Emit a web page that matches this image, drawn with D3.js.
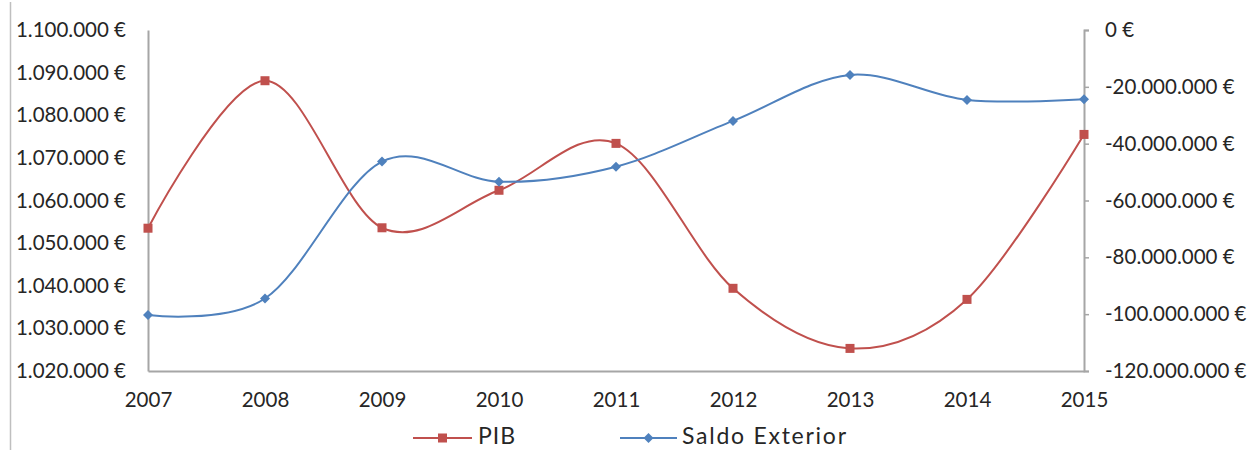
<!DOCTYPE html>
<html>
<head>
<meta charset="utf-8">
<script src="https://cdn.jsdelivr.net/npm/d3@7"></script>
<style>
  html, body { margin: 0; padding: 0; background: #fff; }
  svg { display: block; }
  text { font-family: Lato, "Open Sans", sans-serif; fill: #262626; }
</style>
</head>
<body>
<svg id="chart" width="1250" height="450"></svg>
<script>
// Years on the category axis
const years = ["2007", "2008", "2009", "2010", "2011", "2012", "2013", "2014", "2015"];
// PIB (left axis, euros)
const pib = [1053500, 1088100, 1053600, 1062400, 1073400, 1039400, 1025300, 1036800, 1075500];
// Saldo Exterior (right axis, euros)
const saldoExterior = [-100300000, -94500000, -46300000, -53400000, -48100000, -32000000, -15800000, -24600000, -24400000];
// Tick values for both value axes
const leftTicks = [1020000, 1030000, 1040000, 1050000, 1060000, 1070000, 1080000, 1090000, 1100000];
const rightTicks = [-120000000, -100000000, -80000000, -60000000, -40000000, -20000000, 0];
const seriesNames = ["PIB", "Saldo Exterior"];

const RED = "#C0504D", BLUE = "#4F81BD", AXIS = "#A6A6A6";
const TICK_FONT = "20.5px";

const svg = d3.select("#chart");
const plot = { left: 148, right: 1084, top: 30, bottom: 371 };

// Spanish-style thousands separator
const fmt = v => {
  const s = d3.format(",")(Math.abs(v)).replace(/,/g, ".");
  return (v < 0 ? "-" : "") + s + " €";
};

const x = d3.scalePoint().domain(years).range([plot.left, plot.right]);
const yL = d3.scaleLinear().domain([1020000, 1100000]).range([plot.bottom, plot.top]);
const yR = d3.scaleLinear().domain([-120000000, 0]).range([plot.bottom, plot.top]);

// Frame line at the far left edge
svg.append("line").attr("x1", 10.5).attr("x2", 10.5).attr("y1", 2).attr("y2", 450)
  .attr("stroke", "#BFBFBF").attr("stroke-width", 1.5);

function styleText(g) {
  g.selectAll("text").style("font-size", TICK_FONT)
    .style("font-family", "Lato, sans-serif").attr("fill", "#262626");
}

// Left axis: line only, labels to the left
const gL = svg.append("g").attr("transform", `translate(${plot.left},0)`)
  .call(d3.axisLeft(yL).tickValues(leftTicks).tickSize(0).tickPadding(22).tickFormat(fmt));
gL.select(".domain").attr("stroke", AXIS).attr("stroke-width", 2);
styleText(gL);

// Right axis with short outward ticks
const gR = svg.append("g").attr("transform", `translate(${plot.right},0)`)
  .call(d3.axisRight(yR).tickValues(rightTicks).tickSize(5).tickPadding(16).tickFormat(fmt));
gR.select(".domain").attr("stroke", AXIS).attr("stroke-width", 2);
gR.selectAll(".tick line").attr("stroke", AXIS).attr("stroke-width", 1.5);
styleText(gR);

// Bottom category axis
const gB = svg.append("g").attr("transform", `translate(0,${plot.bottom})`)
  .call(d3.axisBottom(x).tickSize(0).tickPadding(21));
gB.select(".domain").attr("stroke", AXIS).attr("stroke-width", 2);
styleText(gB);

const curve = d3.curveCardinal.tension(0);

// PIB series
const linePib = d3.line().x((d, i) => x(years[i])).y(d => yL(d)).curve(curve);
svg.append("path").datum(pib).attr("d", linePib)
  .attr("fill", "none").attr("stroke", RED).attr("stroke-width", 2);
svg.selectAll(".pibMark").data(pib).enter().append("rect")
  .attr("x", (d, i) => x(years[i]) - 4.5).attr("y", d => yL(d) - 4.5)
  .attr("width", 9).attr("height", 9).attr("fill", RED);

// Saldo Exterior series
const lineSaldo = d3.line().x((d, i) => x(years[i])).y(d => yR(d)).curve(curve);
svg.append("path").datum(saldoExterior).attr("d", lineSaldo)
  .attr("fill", "none").attr("stroke", BLUE).attr("stroke-width", 2);
const diamond = "M0,-5L5,0L0,5L-5,0Z";
svg.selectAll(".saldoMark").data(saldoExterior).enter().append("path")
  .attr("d", diamond)
  .attr("transform", (d, i) => `translate(${x(years[i])},${yR(d)})`)
  .attr("fill", BLUE);

// Legend
const leg = svg.append("g");
const ly = 438;
leg.append("line").attr("x1", 413).attr("x2", 472).attr("y1", ly).attr("y2", ly)
  .attr("stroke", RED).attr("stroke-width", 2);
leg.append("rect").attr("x", 438).attr("y", ly - 4.5).attr("width", 9).attr("height", 9).attr("fill", RED);
leg.append("text").attr("x", 478).attr("y", 444)
  .style("font-size", "23px").attr("textLength", 37).attr("lengthAdjust", "spacing")
  .text(seriesNames[0]);
leg.append("line").attr("x1", 620).attr("x2", 677).attr("y1", ly).attr("y2", ly)
  .attr("stroke", BLUE).attr("stroke-width", 2);
leg.append("path").attr("d", diamond).attr("transform", `translate(648.5,${ly})`).attr("fill", BLUE);
leg.append("text").attr("x", 682).attr("y", 444)
  .style("font-size", "23px").attr("textLength", 164).attr("lengthAdjust", "spacing")
  .text(seriesNames[1]);
</script>
</body>
</html>
